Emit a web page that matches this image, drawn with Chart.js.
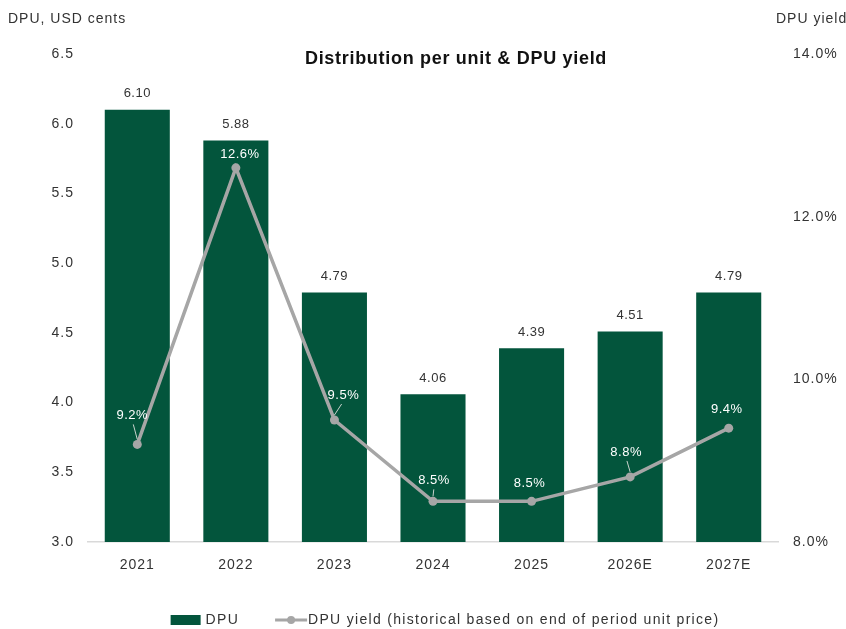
<!DOCTYPE html>
<html>
<head>
<meta charset="utf-8">
<script src="https://cdn.jsdelivr.net/npm/chart.js@4"></script>
<style>
  html, body { margin: 0; padding: 0; background: #fff; }
  #wrap { width: 846px; height: 629px; position: relative; }
</style>
</head>
<body>
<div id="wrap"><canvas id="c" width="846" height="629"></canvas></div>
<script>
// Categories and series
const years = ['2021', '2022', '2023', '2024', '2025', '2026E', '2027E'];
const dpuValues = [6.10, 5.88, 4.79, 4.06, 4.39, 4.51, 4.79];
const yieldValues = [9.2, 12.6, 9.5, 8.5, 8.5, 8.8, 9.4];
const dpuTicks = [3.0, 3.5, 4.0, 4.5, 5.0, 5.5, 6.0, 6.5];
const yieldTicks = [8.0, 10.0, 12.0, 14.0];

// Label placement for the yield series: [dx, dy, leader line]
const yieldLabelOffsets = [
  [-5, -29, true], [4, -13, false], [9, -25, true], [1, -21, true],
  [-2, -18, false], [-4, -25, true], [-2, -19, false]
];

const GREEN = '#03553c';
const GREY = '#a6a6a6';
const TEXT = '#333333';
const FONT = '"Liberation Sans", Arial, Helvetica, sans-serif';
const SPACING = '1px';

const annotations = {
  id: 'annotations',
  beforeDraw(chart) {
    // wide tracking for every text drawn on the canvas
    chart.ctx.letterSpacing = SPACING;
  },
  afterDatasetsDraw(chart) {
    const ctx = chart.ctx;
    ctx.save();
    ctx.letterSpacing = '0.5px';
    // bar values
    ctx.font = '13px ' + FONT;
    ctx.fillStyle = TEXT;
    ctx.textAlign = 'center';
    ctx.textBaseline = 'middle';
    chart.getDatasetMeta(1).data.forEach((bar, i) => {
      ctx.fillText(dpuValues[i].toFixed(2), bar.x, bar.y - 16);
    });
    // yield values
    chart.getDatasetMeta(0).data.forEach((pt, i) => {
      const [dx, dy, leader] = yieldLabelOffsets[i];
      const lx = pt.x + dx, ly = pt.y + dy;
      if (leader) {
        ctx.strokeStyle = '#c8d2cc';
        ctx.lineWidth = 1;
        ctx.beginPath();
        ctx.moveTo(lx - dx * 0.2, ly + 9);
        ctx.lineTo(pt.x, pt.y - 5);
        ctx.stroke();
      }
      ctx.fillStyle = '#ffffff';
      ctx.font = '13px ' + FONT;
      ctx.fillText(yieldValues[i].toFixed(1) + '%', lx, ly);
    });
    ctx.restore();
  },
  afterDraw(chart) {
    const ctx = chart.ctx;
    ctx.save();
    ctx.letterSpacing = SPACING;
    ctx.fillStyle = TEXT;
    ctx.textBaseline = 'middle';
    ctx.font = '14px ' + FONT;
    ctx.textAlign = 'left';
    ctx.fillText('DPU, USD cents', 8, 19);
    ctx.fillText('DPU yield', 776, 19);

    ctx.fillStyle = '#111111';
    ctx.letterSpacing = '0.7px';
    ctx.font = 'bold 18px ' + FONT;
    ctx.textAlign = 'center';
    ctx.fillText('Distribution per unit & DPU yield', 456, 59);

    // legend
    const ds = chart.data.datasets;
    const barLabel = ds[1].label, lineLabel = ds[0].label;
    ctx.letterSpacing = '1.3px';
    ctx.font = '14px ' + FONT;
    ctx.textAlign = 'left';
    const barW = 30, lineW = 32, gap1 = 5, gap2 = 1, gapItem = 36;
    const w1 = ctx.measureText(barLabel).width;
    const w2 = ctx.measureText(lineLabel).width;
    const total = barW + gap1 + w1 + gapItem + lineW + gap2 + w2;
    let x = 445 - total / 2;
    const y = 620;
    ctx.fillStyle = GREEN;
    ctx.fillRect(x, y - 5, barW, 10);
    x += barW + gap1;
    ctx.fillStyle = TEXT;
    ctx.fillText(barLabel, x, y);
    x += w1 + gapItem;
    ctx.strokeStyle = GREY;
    ctx.lineWidth = 3;
    ctx.beginPath(); ctx.moveTo(x, y); ctx.lineTo(x + lineW, y); ctx.stroke();
    ctx.fillStyle = GREY;
    ctx.beginPath(); ctx.arc(x + lineW / 2, y, 4, 0, Math.PI * 2); ctx.fill();
    x += lineW + gap2;
    ctx.fillStyle = TEXT;
    ctx.fillText(lineLabel, x, y);
    ctx.restore();
  }
};

new Chart(document.getElementById('c'), {
  data: {
    labels: years,
    datasets: [
      {
        type: 'line',
        label: 'DPU yield (historical based on end of period unit price)',
        data: yieldValues,
        yAxisID: 'yRight',
        borderColor: GREY,
        backgroundColor: GREY,
        borderWidth: 3.5,
        pointRadius: 4.5,
        pointBackgroundColor: GREY,
        pointBorderWidth: 0,
        tension: 0,
        order: 0
      },
      {
        type: 'bar',
        label: 'DPU',
        data: dpuValues,
        yAxisID: 'yLeft',
        backgroundColor: GREEN,
        categoryPercentage: 1,
        barPercentage: 0.66,
        order: 1
      }
    ]
  },
  options: {
    responsive: false,
    animation: false,
    devicePixelRatio: 1,
    layout: { padding: { top: 54, left: 0, right: 0, bottom: 0 } },
    plugins: {
      tooltip: { enabled: false },
      title: { display: false },
      legend: { display: false }
    },
    scales: {
      x: {
        grid: { display: false, drawTicks: false },
        border: { display: true, color: '#d9d9d9', width: 1.5 },
        ticks: { color: TEXT, font: { family: FONT, size: 14 }, padding: 15 },
        afterFit(s) { s.height = 87; }
      },
      yLeft: {
        position: 'left',
        min: 3.0, max: 6.5,
        grid: { display: false, drawTicks: false },
        border: { display: false },
        afterBuildTicks(s) { s.ticks = dpuTicks.map(v => ({ value: v })); },
        ticks: {
          color: TEXT, font: { family: FONT, size: 14 }, padding: 14,
          callback: v => Number(v).toFixed(1)
        },
        afterFit(s) { s.width = 88; }
      },
      yRight: {
        position: 'right',
        min: 8.0, max: 14.0,
        grid: { display: false, drawTicks: false },
        border: { display: false },
        afterBuildTicks(s) { s.ticks = yieldTicks.map(v => ({ value: v })); },
        ticks: {
          color: TEXT, font: { family: FONT, size: 14 }, padding: 15,
          callback: v => Number(v).toFixed(1) + '%'
        },
        afterFit(s) { s.width = 68; }
      }
    }
  },
  plugins: [annotations]
});
</script>
</body>
</html>
